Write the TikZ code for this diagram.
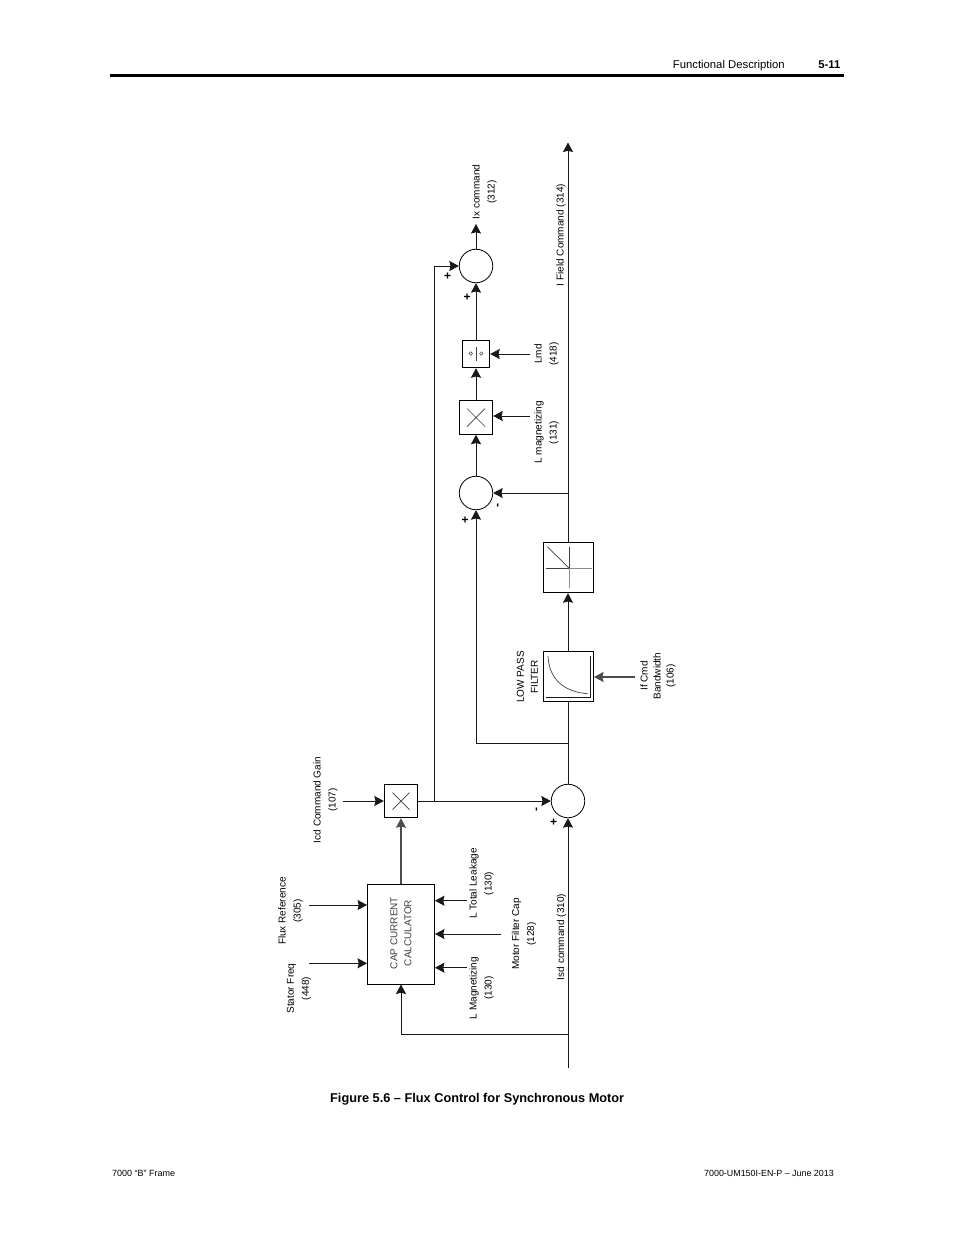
\documentclass[tikz,border=0pt]{standalone}
\usepackage{fontspec}
\setmainfont{Liberation Sans}
\usetikzlibrary{arrows.meta}
\tikzset{
  conn/.style={line width=0.9pt,draw=black!90},
  arr/.style={conn,-{Stealth[length=9.5pt,width=10pt,inset=1.2pt]}},
  blockbox/.style={draw=black,line width=0.9pt,fill=white,inner sep=0pt,minimum width=#1,minimum height=#1},
  sumcircle/.style={circle,draw=black,line width=0.8pt,fill=white,inner sep=0pt,minimum size=33.5pt},
  vlabel/.style={rotate=90,align=center,font=\fontsize{10}{15}\selectfont,inner sep=0pt},
  sign/.style={rotate=90,font=\fontsize{12}{12}\selectfont\bfseries,inner sep=0pt},
  pagetext/.style={font=\fontsize{11.3}{13}\selectfont,inner sep=0pt},
  glyph/.style={line width=0.7pt,draw=black!75}
}
\begin{document}
\begin{tikzpicture}[x=1pt,y=-1pt]
\useasboundingbox (0,0) rectangle (954,1235);
\fill[white] (0,0) rectangle (954,1235);
% page furniture
\node[pagetext,anchor=base west] (hdr) at (672.7,68.5) {Functional Description};
\node[pagetext,anchor=base east] (pg) at (840.5,68.5) {\bfseries 5-11};
\coordinate (ruleL) at (110,75.5);
\coordinate (ruleR) at (844,75.5);
\draw[line width=3pt] (ruleL) -- (ruleR);
\node[font=\fontsize{12.75}{15}\selectfont\bfseries,inner sep=0pt,anchor=base west] (cap1) at (330,1102) {Figure 5.6 – Flux Control for Synchronous Motor};
\node[font=\fontsize{9}{11}\selectfont,inner sep=0pt,anchor=base west] (ftl) at (112,1176) {7000 “B” Frame};
\node[font=\fontsize{8.9}{11}\selectfont,inner sep=0pt,anchor=base east] (ftr) at (834,1176) {7000-UM150I-EN-P – June 2013};
% blocks
\node[draw=black,line width=0.9pt,inner sep=0pt,minimum width=67pt,minimum height=100pt] (capc) at (401,934) {};
\node[vlabel,text=black!75,font=\fontsize{10}{14}\selectfont] (capt) at (401,933) {CAP CURRENT\\CALCULATOR};
\node[blockbox=33.5pt] (mulA) at (401,801) {};
\node[blockbox=33.5pt] (mulB) at (476,417.5) {};
\node[blockbox=27.5pt] (divb) at (476,354) {};
\node[blockbox=50.5pt] (limb) at (568.3,567.5) {};
\node[blockbox=50.5pt] (lpfb) at (568.3,676.5) {};
\node[sumcircle] (sumA) at (568,801) {};
\node[sumcircle] (sumB) at (476,493) {};
\node[sumcircle] (sumC) at (476,266) {};
% free ends and junctions
\coordinate (isdS) at (568,1068);
\coordinate (isdJ) at (568,1034);
\coordinate (capJ) at (401,1034);
\coordinate (fluxS) at (309,905);
\coordinate (statS) at (309,963.3);
\coordinate (ltotS) at (467,900.7);
\coordinate (mcapS) at (500.7,934);
\coordinate (lmagS) at (467,967.7);
\coordinate (icdS) at (342.7,801);
\coordinate (ixJ) at (434,801);
\coordinate (ixC) at (434,266);
\coordinate (ixE) at (476,224);
\coordinate (lmdS) at (530,354);
\coordinate (lmS) at (530,416);
\coordinate (ifS) at (635,677);
\coordinate (fbJ) at (568,743);
\coordinate (fbC) at (476,743);
\coordinate (fJ) at (568,493);
\coordinate (fE) at (568,142.5);
% connectors
\draw[arr] (isdS) -- (sumA.south);
\draw[conn] (isdJ) -- (capJ);
\draw[arr] (capJ) -- (capc.south);
\draw[arr] (fluxS) -- (capc.west |- fluxS);
\draw[arr] (statS) -- (capc.west |- statS);
\draw[arr] (ltotS) -- (capc.east |- ltotS);
\draw[arr] (mcapS) -- (capc.east |- mcapS);
\draw[arr] (lmagS) -- (capc.east |- lmagS);
\draw[arr,line width=1.2pt,draw=black!70] (capc.north) -- (mulA.south);
\draw[arr] (icdS) -- (mulA.west);
\draw[arr] (mulA.east) -- (sumA.west);
\draw[conn] (ixJ) -- (ixC);
\draw[arr] (ixC) -- (sumC.west);
\draw[arr] (sumC.north) -- (ixE);
\draw[arr] (divb.north) -- (sumC.south);
\draw[arr] (mulB.north) -- (divb.south);
\draw[arr] (sumB.north) -- (mulB.south);
\draw[arr] (lmdS) -- (divb.east);
\draw[arr] (lmS) -- (mulB.east |- lmS);
\draw[conn] (sumA.north) -- (lpfb.south -| sumA.north);
\draw[conn] (fbJ) -- (fbC);
\draw[arr] (fbC) -- (sumB.south);
\draw[arr] (lpfb.north -| fE) -- (limb.south -| fE);
\draw[arr] (limb.north -| fE) -- (fE);
\draw[arr] (fJ) -- (sumB.east);
\draw[arr,draw=black!70,line width=1.1pt] (ifS) -- (lpfb.east |- ifS);
% block glyphs
\draw[glyph] (mulA.center)+(-8.5,-8.5) -- +(8.5,8.5) (mulA.center)+(-8.5,8.5) -- +(8.5,-8.5);
\draw[glyph] (mulB.center)+(-9,-9) -- +(9,9) (mulB.center)+(-9,9) -- +(9,-9);
\draw[glyph] (476,347) -- (476,360.5);
\draw[glyph,line width=0.5pt] (470.7,353.5) circle (1.7) (481.3,353.5) circle (1.7);
\draw[glyph] (547.3,546.7) -- (569,568);
\draw[glyph] (546,568) -- (569,568);
\draw[glyph] (569,547) -- (569,568);
\draw[line width=1pt,draw=black!45] (569,568) -- (592,568);
\draw[line width=1pt,draw=black!45] (569,568) -- (569,588);
\draw[glyph] (548,656) .. controls (549,680) and (565,692) .. (587.7,693.7);
\draw[conn] (590.3,656) -- (590.3,697.3) -- (546,697.3);
% signs
\node[sign] (sg1) at (448,275.5) {+};
\node[sign] (sg2) at (467.7,297) {+};
\node[sign] (sg3) at (465.7,520) {+};
\node[sign] (sg4) at (499,505.5) {-};
\node[sign] (sg5) at (537.7,809) {-};
\node[sign] (sg6) at (554,822) {+};
% labels
\node[vlabel] (l1) at (325.5,800) {Icd Command Gain\\(107)};
\node[vlabel] (l2) at (290.5,911) {Flux Reference\\(305)};
\node[vlabel] (l3) at (299,988.5) {Stator Freq\\(448)};
\node[vlabel] (l4) at (481.5,883.5) {L Total Leakage\\(130)};
\node[vlabel] (l5) at (524,934) {Motor Filter Cap\\(128)};
\node[vlabel] (l6) at (481.5,988) {L Magnetizing\\(130)};
\node[vlabel] (l7) at (561.5,937) {Isd command (310)};
\node[vlabel] (l8) at (484.5,192) {Ix command\\(312)};
\node[vlabel] (l9) at (561,235) {I Field Command (314)};
\node[vlabel] (l10) at (546.5,354) {Lmd\\(418)};
\node[vlabel] (l11) at (546.5,432.5) {L magnetizing\\(131)};
\node[vlabel,font=\fontsize{10}{14}\selectfont] (l12) at (527.5,677) {LOW PASS\\FILTER};
\node[vlabel,font=\fontsize{10}{13}\selectfont] (l13) at (658,676) {If Cmd\\Bandwidth\\(106)};
\end{tikzpicture}
\end{document}
